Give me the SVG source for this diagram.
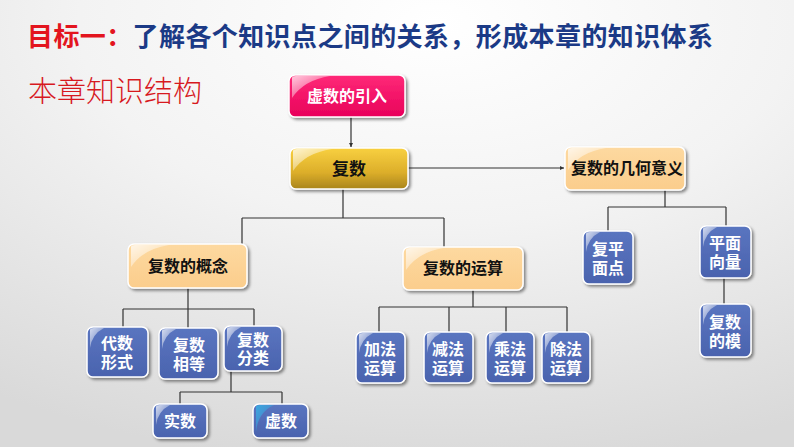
<svg xmlns="http://www.w3.org/2000/svg" width="794" height="447" viewBox="0 0 794 447">
<defs>
<radialGradient id="bg" cx="0.55" cy="0.05" r="1.0">
<stop offset="0" stop-color="#ffffff"/>
<stop offset="0.45" stop-color="#f3f3f3"/>
<stop offset="1" stop-color="#d9d9d9"/>
</radialGradient>
<linearGradient id="pink" x1="0" y1="0" x2="0" y2="1">
<stop offset="0" stop-color="#ff2a78"/>
<stop offset="1" stop-color="#e8005a"/>
</linearGradient>
<linearGradient id="gold" x1="0" y1="0" x2="0" y2="1">
<stop offset="0" stop-color="#f8d040"/>
<stop offset="0.6" stop-color="#dcae2a"/>
<stop offset="1" stop-color="#a9851c"/>
</linearGradient>
<linearGradient id="peach" x1="0" y1="0" x2="0" y2="1">
<stop offset="0" stop-color="#fdd9a0"/>
<stop offset="1" stop-color="#fbcd8c"/>
</linearGradient>
<linearGradient id="blue" x1="0" y1="0" x2="0" y2="1">
<stop offset="0" stop-color="#5a75c0"/>
<stop offset="1" stop-color="#4a63ae"/>
</linearGradient>
<linearGradient id="gloss" x1="0" y1="0" x2="1" y2="1">
<stop offset="0" stop-color="#ffffff" stop-opacity="0.75"/>
<stop offset="1" stop-color="#ffffff" stop-opacity="0"/>
</linearGradient>
<linearGradient id="cyan" x1="0" y1="0" x2="1" y2="1">
<stop offset="0" stop-color="#3aa8e0"/>
<stop offset="1" stop-color="#3aa8e0" stop-opacity="0"/>
</linearGradient>
<filter id="sh" x="-20%" y="-20%" width="150%" height="150%">
<feDropShadow dx="2" dy="2" stdDeviation="1.5" flood-color="#000" flood-opacity="0.45"/>
</filter>
<marker id="arr" viewBox="0 0 6 6" refX="6" refY="3" markerWidth="3.5" markerHeight="3.5" orient="auto">
<path d="M0,0 L6,3 L0,6 z" fill="#333"/>
</marker>
</defs>
<style>
.box{stroke:#ffffff;stroke-width:1.5;filter:url(#sh)}
.t{font-family:"Liberation Sans","Noto Sans CJK SC",sans-serif;font-weight:bold;text-anchor:middle;dominant-baseline:central}
.w{fill:#ffffff}
.k{fill:#111111}
.bt{font-size:16px}
.ln{fill:none;stroke:#333333;stroke-width:1.2}
</style>
<rect x="0" y="0" width="794" height="447" fill="url(#bg)"/>
<text x="27" y="46" font-family="'Noto Sans CJK SC',sans-serif" font-weight="bold" font-size="26" letter-spacing="0.4"><tspan fill="#e3151e">目标一：</tspan><tspan fill="#1b3a86">了解各个知识点之间的关系，形成本章的知识体系</tspan></text>
<text x="28" y="102" font-family="'Noto Sans CJK SC',sans-serif" font-weight="300" font-size="29" fill="#d7191f">本章知识结构</text>

<g id="connectors">
<path class="ln" d="M351,117 V147" marker-end="url(#arr)"/>
<path class="ln" d="M408,168 H564" marker-end="url(#arr)"/>
<path class="ln" d="M343,189 V218 M242,218 H444 M242,218 V244 M444,218 V247"/>
<path class="ln" d="M188,288 V309 M123,309 H254 M123,309 V327 M188,309 V328 M254,309 V326"/>
<path class="ln" d="M231,371 V392 M180,392 H282 M180,392 V404 M282,392 V404"/>
<path class="ln" d="M473,290 V307 M379,307 H567 M379,307 V332 M449,307 V332 M506,307 V332 M567,307 V332"/>
<path class="ln" d="M665,190 V207 M608,207 H726 M608,207 V231 M726,207 V226"/>
<path class="ln" d="M724,278 V304"/>
</g>

<g id="n-yinru">
<rect class="box" x="289" y="75" width="116" height="42" rx="6" fill="url(#pink)"/>
<path d="M292,78 Q292,76 296,76 H330 Q304,80 292,98 Z" fill="url(#gloss)"/>
<text class="t w" x="347" y="96" font-size="16">虚数的引入</text>
</g>
<g id="n-fushu">
<rect class="box" x="290" y="148" width="118" height="41" rx="6" fill="url(#gold)"/>
<path d="M293,151 Q293,149 297,149 H332 Q305,153 293,171 Z" fill="url(#gloss)"/>
<text class="t k" x="349" y="169" font-size="17">复数</text>
</g>
<g id="n-jihe">
<rect class="box" x="565" y="147" width="120" height="43" rx="6" fill="url(#peach)"/>
<path d="M568,150 Q568,148 572,148 H606 Q580,152 568,170 Z" fill="url(#gloss)"/>
<text class="t k" x="627" y="168" font-size="16">复数的几何意义</text>
</g>
<g id="n-gainian">
<rect class="box" x="128" y="244" width="119" height="44" rx="6" fill="url(#peach)"/>
<path d="M131,247 Q131,245 135,245 H169 Q143,249 131,267 Z" fill="url(#gloss)"/>
<text class="t k" x="188" y="266" font-size="16">复数的概念</text>
</g>
<g id="n-yunsuan">
<rect class="box" x="403" y="247" width="120" height="43" rx="6" fill="url(#peach)"/>
<path d="M406,250 Q406,248 410,248 H444 Q418,252 406,270 Z" fill="url(#gloss)"/>
<text class="t k" x="463" y="268" font-size="16">复数的运算</text>
</g>

<g id="n-daishu">
<rect class="box" x="87" y="327" width="61" height="50" rx="6" fill="url(#blue)"/>
<path d="M90,330 Q90,328 94,328 H104 Q92,334 90,348 Z" fill="url(#gloss)"/>
<text class="t w bt" x="117" y="343">代数</text><text class="t w bt" x="117" y="362">形式</text>
</g>
<g id="n-xiangdeng">
<rect class="box" x="159" y="328" width="59" height="51" rx="6" fill="url(#blue)"/>
<path d="M162,331 Q162,329 166,329 H176 Q164,335 162,349 Z" fill="url(#gloss)"/>
<text class="t w bt" x="189" y="345">复数</text><text class="t w bt" x="189" y="364">相等</text>
</g>
<g id="n-fenlei">
<rect class="box" x="224" y="326" width="58" height="45" rx="6" fill="url(#blue)"/>
<path d="M227,329 Q227,327 231,327 H241 Q229,333 227,347 Z" fill="url(#gloss)"/>
<text class="t w bt" x="253" y="340">复数</text><text class="t w bt" x="253" y="358">分类</text>
</g>
<g id="n-shishu">
<rect class="box" x="153" y="404" width="54" height="34" rx="6" fill="url(#blue)"/>
<path d="M156,407 Q156,405 160,405 H170 Q158,411 156,425 Z" fill="url(#gloss)"/>
<text class="t w bt" x="180" y="421">实数</text>
</g>
<g id="n-xushu">
<rect class="box" x="253" y="404" width="55" height="34" rx="6" fill="url(#blue)"/>
<path d="M256,407 Q256,405 260,405 H274 Q258,412 256,432 Z" fill="url(#cyan)"/>
<text class="t w bt" x="281" y="421">虚数</text>
</g>

<g id="n-jiafa">
<rect class="box" x="356" y="332" width="49" height="51" rx="6" fill="url(#blue)"/>
<path d="M359,335 Q359,333 363,333 H373 Q361,339 359,353 Z" fill="url(#gloss)"/>
<text class="t w bt" x="380" y="349">加法</text><text class="t w bt" x="380" y="368">运算</text>
</g>
<g id="n-jianfa">
<rect class="box" x="424" y="332" width="49" height="51" rx="6" fill="url(#blue)"/>
<path d="M427,335 Q427,333 431,333 H441 Q429,339 427,353 Z" fill="url(#gloss)"/>
<text class="t w bt" x="448" y="349">减法</text><text class="t w bt" x="448" y="368">运算</text>
</g>
<g id="n-chengfa">
<rect class="box" x="486" y="332" width="48" height="51" rx="6" fill="url(#blue)"/>
<path d="M489,335 Q489,333 493,333 H503 Q491,339 489,353 Z" fill="url(#gloss)"/>
<text class="t w bt" x="510" y="349">乘法</text><text class="t w bt" x="510" y="368">运算</text>
</g>
<g id="n-chufa">
<rect class="box" x="542" y="332" width="48" height="51" rx="6" fill="url(#blue)"/>
<path d="M545,335 Q545,333 549,333 H559 Q547,339 545,353 Z" fill="url(#gloss)"/>
<text class="t w bt" x="566" y="349">除法</text><text class="t w bt" x="566" y="368">运算</text>
</g>

<g id="n-fupingmian">
<rect class="box" x="583" y="231" width="50" height="53" rx="6" fill="url(#blue)"/>
<path d="M586,234 Q586,232 590,232 H600 Q588,238 586,252 Z" fill="url(#gloss)"/>
<text class="t w bt" x="608" y="249">复平</text><text class="t w bt" x="608" y="268">面点</text>
</g>
<g id="n-xiangliang">
<rect class="box" x="700" y="226" width="51" height="52" rx="6" fill="url(#blue)"/>
<path d="M703,229 Q703,227 707,227 H717 Q705,233 703,247 Z" fill="url(#gloss)"/>
<text class="t w bt" x="725" y="243">平面</text><text class="t w bt" x="725" y="262">向量</text>
</g>
<g id="n-mo">
<rect class="box" x="700" y="304" width="51" height="53" rx="6" fill="url(#blue)"/>
<path d="M703,307 Q703,305 707,305 H717 Q705,311 703,325 Z" fill="url(#gloss)"/>
<text class="t w bt" x="725" y="322">复数</text><text class="t w bt" x="725" y="341">的模</text>
</g>
</svg>
